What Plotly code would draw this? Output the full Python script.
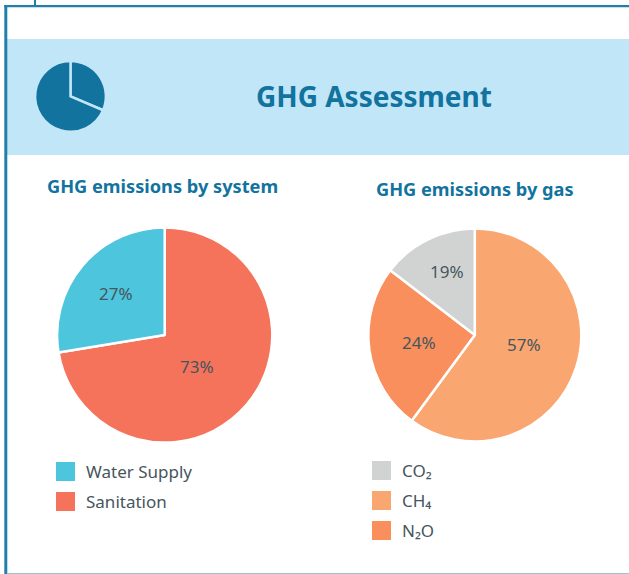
import plotly.graph_objects as go

W, H = 629, 574
TEAL = "#11739e"
TEXT = "#46565c"
FONT = "Noto Sans"

system_labels = ["Sanitation", "Water Supply"]
system_values = [72.4, 27.6]
system_text = ["73%", "27%"]
system_colors = ["#f5735b", "#4cc5dd"]

gas_labels = ["CH₄", "N₂O", "CO₂"]
gas_values = [60.1, 25.3, 14.6]
gas_text = ["57%", "24%", "19%"]
gas_colors = ["#f9a671", "#f88f5d", "#d1d3d2"]

icon_values = [31.4, 68.6]

legend_system = ["Water Supply", "Sanitation"]
legend_system_colors = ["#4cc5dd", "#f5735b"]
legend_gas = ["CO₂", "CH₄", "N₂O"]
legend_gas_colors = ["#d1d3d2", "#f9a671", "#f88f5d"]


def dom(cx, cy, r):
    return dict(x=[(cx - r) / W, (cx + r) / W], y=[1 - (cy + r) / H, 1 - (cy - r) / H])


def pie(values, labels, colors, d, lw=2.5, line="white"):
    return go.Pie(values=values, labels=labels, textinfo="none",
                  marker=dict(colors=colors, line=dict(color=line, width=lw)),
                  sort=False, direction="clockwise", rotation=0, domain=d,
                  hoverinfo="label+percent", showlegend=False)


fig = go.Figure()
fig.add_trace(pie(system_values, system_labels, system_colors, dom(164.7, 335, 107.6)))
fig.add_trace(pie(gas_values, gas_labels, gas_colors, dom(474.8, 335, 106.5)))
fig.add_trace(pie(icon_values, ["a", "b"], [TEAL, TEAL], dom(70.5, 96.4, 35.4), lw=2.5, line="#c0e6f8"))


def px(x): return x / W
def py(y): return 1 - y / H


shapes = [
    dict(type="rect", x0=px(7), x1=1, y0=py(155), y1=py(39), fillcolor="#c0e6f8", line_width=0, layer="below"),
    dict(type="rect", x0=px(4.3), x1=px(7.3), y0=py(574), y1=py(5), fillcolor="#2080a8", line_width=0),
    dict(type="rect", x0=px(4.3), x1=1, y0=py(7.3), y1=py(5), fillcolor="#2080a8", line_width=0),
    dict(type="rect", x0=px(34), x1=px(36), y0=py(5), y1=1, fillcolor="#2080a8", line_width=0),
    dict(type="rect", x0=px(7), x1=1, y0=py(574), y1=py(573), fillcolor="#9cc3d2", line_width=0),
]
ann = []


def text(x, y, s, size, color, bold=False, anchor="left"):
    ann.append(dict(x=px(x), y=py(y), xref="paper", yref="paper", text=f"<b>{s}</b>" if bold else s,
                    showarrow=False, xanchor=anchor, yanchor="middle",
                    font=dict(family=FONT, size=size, color=color)))


text(374, 96, "GHG Assessment", 28, TEAL, True, "center")
text(162, 186, "GHG emissions by system", 18.2, TEAL, True, "center")
text(475, 189, "GHG emissions by gas", 18.2, TEAL, True, "center")

# slice labels placed where the reference has them
for s, (x, y) in zip(system_text, [(197, 366.7), (116, 293)]):
    text(x, y, s, 17, TEXT, False, "center")
for s, (x, y) in zip(gas_text, [(524, 344), (419, 342.7), (447, 271.7)]):
    text(x, y, s, 17, TEXT, False, "center")


def legend(x, y0, names, colors):
    for i, (n, c) in enumerate(zip(names, colors)):
        y = y0 + i * 30
        shapes.append(dict(type="rect", x0=px(x), x1=px(x + 19), y0=py(y + 9.5), y1=py(y - 9.5),
                           fillcolor=c, line_width=0))
        text(x + 28, y, n, 17, TEXT)


legend(56, 471.5, legend_system, legend_system_colors)
legend(372, 470.5, legend_gas, legend_gas_colors)

fig.update_layout(width=W, height=H, margin=dict(l=0, r=0, t=0, b=0), paper_bgcolor="white",
                  plot_bgcolor="white", shapes=shapes, annotations=ann, showlegend=False)
fig.write_html("out.html", config={"displayModeBar": False},
               post_script="document.body.style.margin='0';document.body.style.overflow='hidden';")
